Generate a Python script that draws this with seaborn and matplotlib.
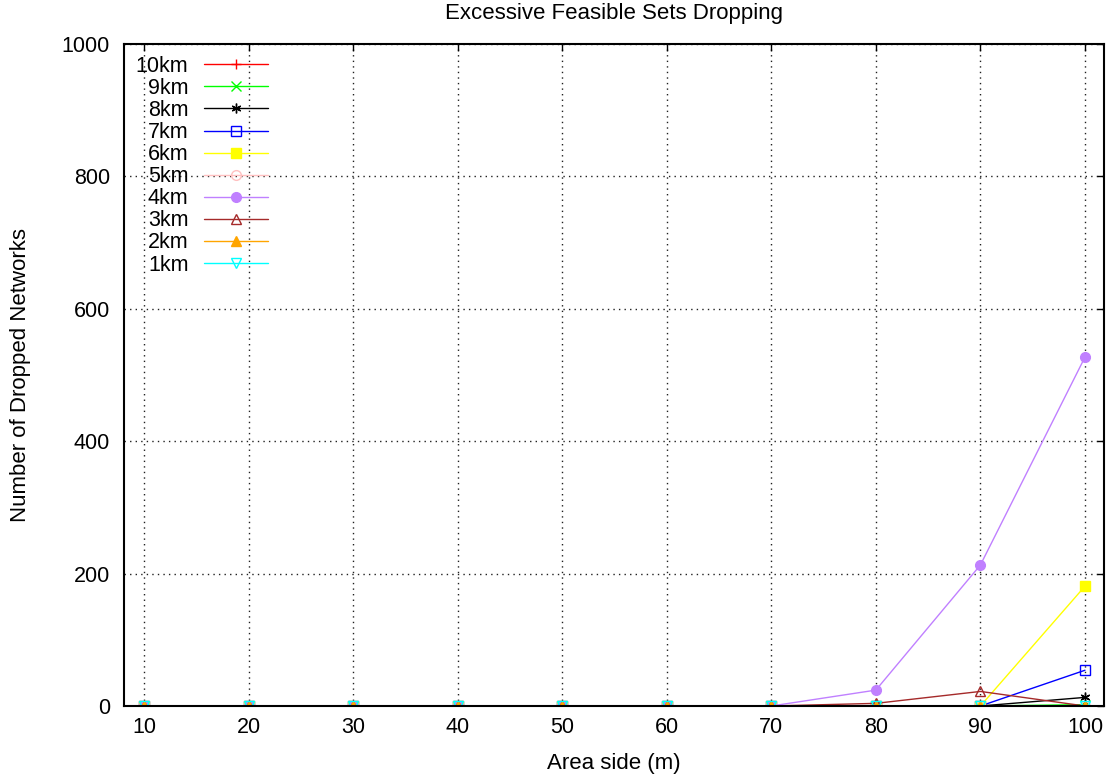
import matplotlib
matplotlib.use("Agg")
import matplotlib.pyplot as plt
import seaborn as sns
import pandas as pd

x_side = [10, 20, 30, 40, 50, 60, 70, 80, 90, 100]
s10km = [0, 0, 0, 0, 0, 0, 0, 0, 0, 0]
s9km = [0, 0, 0, 0, 0, 0, 0, 0, 0, 2]
s8km = [0, 0, 0, 0, 0, 0, 0, 0, 0, 13]
s7km = [0, 0, 0, 0, 0, 0, 0, 0, 0, 54]
s6km = [0, 0, 0, 0, 0, 0, 0, 0, 0, 181]
s5km = [0, 0, 0, 0, 0, 0, 0, 0, 0, 0]
s4km = [0, 0, 0, 0, 0, 0, 0, 24, 213, 527]
s3km = [0, 0, 0, 0, 0, 0, 0, 4, 22, 0]
s2km = [0, 0, 0, 0, 0, 0, 0, 0, 0, 0]
s1km = [0, 0, 0, 0, 0, 0, 0, 0, 0, 0]

labels = ["10km", "9km", "8km", "7km", "6km", "5km", "4km", "3km", "2km", "1km"]
series = [s10km, s9km, s8km, s7km, s6km, s5km, s4km, s3km, s2km, s1km]
colors = ["#ff0000", "#00ff00", "#000000", "#0000ff", "#ffff00",
          "#ffc0c0", "#c080ff", "#a52a2a", "#ffa500", "#00ffff"]
markers = ["+", "x", (6, 2, 0), "s", "s", "o", "o", "^", "^", "v"]
filled = [True, True, True, False, True, False, True, False, True, False]

sns.set_theme(style="white")
plt.rcParams['font.family'] = ['Liberation Sans', 'DejaVu Sans']

fig = plt.figure(figsize=(11.1, 7.8), dpi=100)
ax = fig.add_axes([124/1110, 74/780, 980/1110, 662/780])

for lab, ys, c, m, f in zip(labels, series, colors, markers, filled):
    df = pd.DataFrame({"x": x_side, "y": ys})
    kw = dict(markerfacecolor=c if f else "none", markeredgecolor=c)
    sns.lineplot(data=df, x="x", y="y", ax=ax, color=c, marker=m,
                 markersize=7, linewidth=1, label=lab, markeredgewidth=1, **kw)

ax.set_xlim(8.09, 101.82)
ax.set_ylim(0, 1000)
ax.set_xticks(x_side)
ax.set_yticks([0, 200, 400, 600, 800, 1000])
ax.grid(True, color="#202020", linestyle=(0, (1, 3)), linewidth=1)
ax.tick_params(direction="in", length=5, width=1, top=True, right=True,
               labelsize=15.5, colors="black")
ax.tick_params(axis="y", pad=10)
ax.tick_params(axis="x", pad=8)
for sp in ax.spines.values():
    sp.set_color("black")
    sp.set_linewidth(1.5)

ax.set_xlabel("Area side (m)", fontsize=16, color="black", labelpad=11)
ax.set_ylabel("Number of Dropped Networks", fontsize=16, color="black", labelpad=22)
ax.set_title("Excessive Feasible Sets Dropping", fontsize=16, color="black", pad=18)

leg = ax.legend(loc="upper left", frameon=False, markerfirst=False, fontsize=15.5,
                handlelength=3.0, labelspacing=0.05, borderaxespad=0.25,
                handletextpad=0.7, borderpad=0.3)
for t in leg.get_texts():
    t.set_color("black")

fig.savefig("out.png", dpi=100)
